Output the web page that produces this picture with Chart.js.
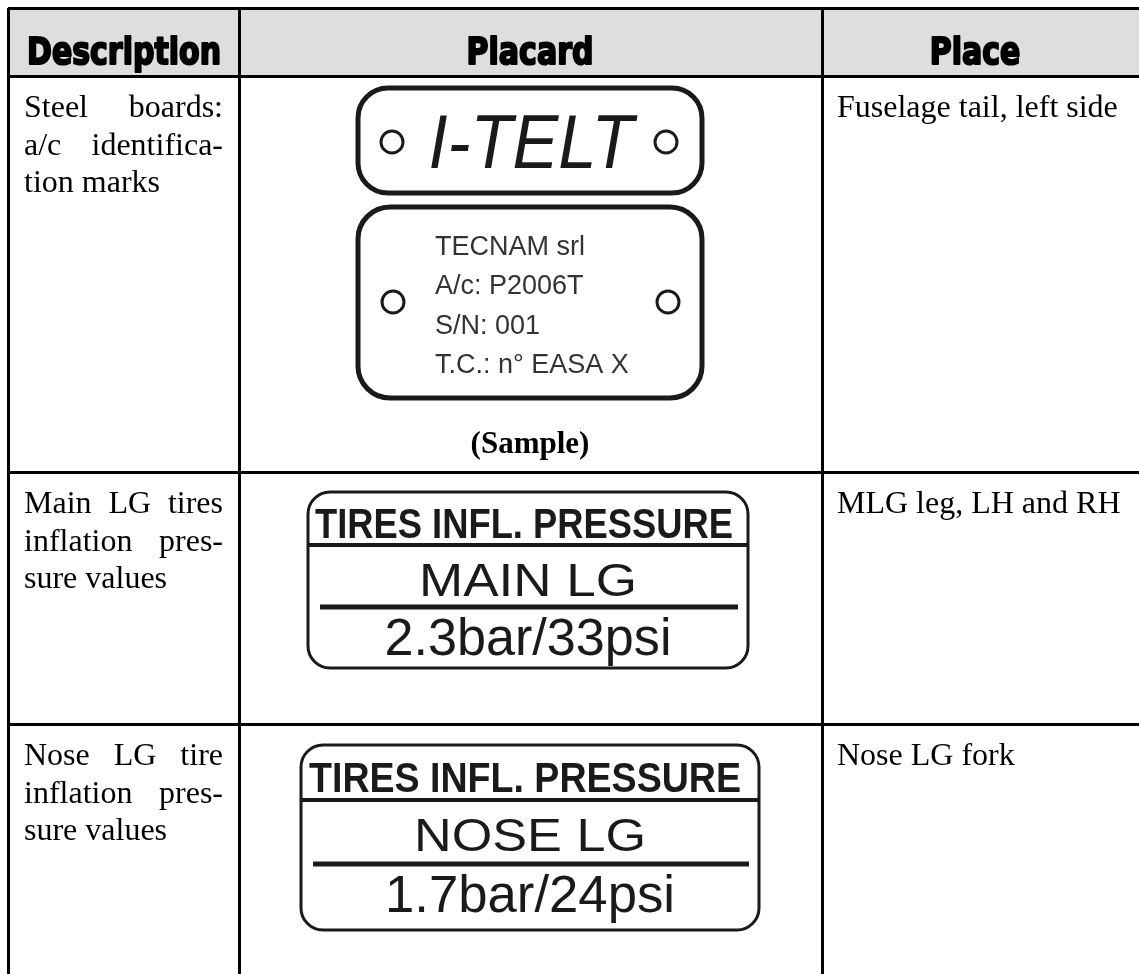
<!DOCTYPE html>
<html>
<head>
<meta charset="utf-8">
<script src="https://cdn.jsdelivr.net/npm/chart.js@4.4.1/dist/chart.umd.min.js"></script>
<style>
  html, body { margin: 0; padding: 0; background: #fff; }
  #wrap { width: 1139px; height: 974px; }
</style>
</head>
<body>
<div id="wrap"><canvas id="placards" width="1139" height="974"></canvas></div>
<script>
// table content
const headers = ['Description', 'Placard', 'Place']
const descriptions = [
    ['Steel boards:', 'a/c identifica-', 'tion marks'],
    ['Main LG tires', 'inflation pres-', 'sure values'],
    ['Nose LG tire', 'inflation pres-', 'sure values']
]
const places = ['Fuselage tail, left side', 'MLG leg, LH and RH', 'Nose LG fork']
const regMark = 'I-TELT'
const idPlate = ['TECNAM srl', 'A/c: P2006T', 'S/N: 001', 'T.C.: n° EASA X']
const sampleNote = '(Sample)'
const pressureTitle = 'TIRES INFL. PRESSURE'
const gearNames = ['MAIN LG', 'NOSE LG']
const pressures = ['2.3bar/33psi', '1.7bar/24psi']

// layout (page pixels)
const colEdges = [8, 239, 822]
const rowEdges = [8, 76, 472, 724]
const lineGap = 37.5
const ink = '#1a1a1a'

document.addEventListener('DOMContentLoaded', () => {
    const canvas = document.getElementById('placards')

    let sx = v => v
    let sy = v => v

    const fitText = (ctx, text, x, y, width, align, heavy) => {
        const w = ctx.measureText(text).width
        const k = width ? width / w : 1
        ctx.save()
        ctx.translate(x, y)
        ctx.scale(k, 1)
        ctx.textAlign = align || 'center'
        ctx.fillText(text, 0, 0)
        if (heavy) {
            // fake a black weight
            ctx.lineWidth = heavy
            ctx.lineJoin = 'round'
            ctx.strokeStyle = ctx.fillStyle
            ctx.strokeText(text, 0, 0)
        }
        ctx.restore()
    }

    const justify = (ctx, text, left, right, y, last) => {
        const words = text.split(' ')
        if (last || words.length < 2) {
            ctx.textAlign = 'left'
            ctx.fillText(text, left, y)
            return
        }
        const total = words.reduce((s, w) => s + ctx.measureText(w).width, 0)
        const gap = (right - left - total) / (words.length - 1)
        let x = left
        ctx.textAlign = 'left'
        words.forEach(w => {
            ctx.fillText(w, x, y)
            x += ctx.measureText(w).width + gap
        })
    }

    const plate = (ctx, x0, y0, x1, y1, r, lw) => {
        ctx.beginPath()
        ctx.moveTo(sx(x0 + r), sy(y0))
        ctx.arcTo(sx(x1), sy(y0), sx(x1), sy(y1), r)
        ctx.arcTo(sx(x1), sy(y1), sx(x0), sy(y1), r)
        ctx.arcTo(sx(x0), sy(y1), sx(x0), sy(y0), r)
        ctx.arcTo(sx(x0), sy(y0), sx(x1), sy(y0), r)
        ctx.closePath()
        ctx.fillStyle = '#fff'
        ctx.fill()
        ctx.lineWidth = lw
        ctx.strokeStyle = ink
        ctx.stroke()
    }

    const hole = (ctx, x, y) => {
        ctx.beginPath()
        ctx.arc(sx(x), sy(y), 11, 0, Math.PI * 2)
        ctx.lineWidth = 3
        ctx.strokeStyle = ink
        ctx.stroke()
    }

    const rule = (ctx, x0, x1, y, lw) => {
        ctx.beginPath()
        ctx.moveTo(sx(x0), sy(y))
        ctx.lineTo(sx(x1), sy(y))
        ctx.lineWidth = lw
        ctx.strokeStyle = ink
        ctx.stroke()
    }

    const headerFill = {
        id: 'headerFill',
        beforeDraw(chart) {
            const { ctx, scales } = chart
            sx = v => scales.x.getPixelForValue(v)
            sy = v => scales.y.getPixelForValue(v)
            ctx.save()
            ctx.fillStyle = '#dedede'
            ctx.fillRect(sx(8), sy(rowEdges[0]), sx(1139) - sx(8), sy(rowEdges[1]) - sy(rowEdges[0]))
            ctx.restore()
        }
    }

    const tableText = {
        id: 'tableText',
        afterDraw(chart) {
            const { ctx } = chart
            ctx.save()
            ctx.textBaseline = 'alphabetic'

            // header
            ctx.fillStyle = '#000'
            ctx.font = 'bold 38px "DejaVu Sans"'
            const k = 194 / ctx.measureText(headers[0]).width
            const headX = [124, 530, 975]
            headers.forEach((h, i) => {
                const w = ctx.measureText(h).width * k
                fitText(ctx, h, sx(headX[i]), sy(64), w, 'center', 2.2)
            })

            // description and place columns
            ctx.font = '32px "Liberation Serif"'
            ctx.fillStyle = '#000'
            descriptions.forEach((lines, r) => {
                const base = rowEdges[r + 1] + 41
                lines.forEach((t, j) => {
                    justify(ctx, t, sx(24), sx(223), sy(base + j * lineGap), j === lines.length - 1)
                })
                ctx.textAlign = 'left'
                ctx.fillText(places[r], sx(837), sy(base))
            })

            // registration plate
            plate(ctx, 358, 88, 702, 193, 30, 5)
            hole(ctx, 392, 142)
            hole(ctx, 666, 142)
            ctx.fillStyle = ink
            ctx.font = 'italic 76px "Liberation Sans"'
            fitText(ctx, regMark, sx(531), sy(168), 205, 'center')

            // identification plate
            plate(ctx, 358, 207, 702, 398, 32, 5)
            hole(ctx, 393, 302)
            hole(ctx, 668, 302)
            ctx.fillStyle = '#333'
            ctx.font = '27px "Liberation Sans"'
            idPlate.forEach((t, j) => {
                ctx.textAlign = 'left'
                ctx.fillText(t, sx(435), sy(255 + j * 39.3))
            })

            ctx.fillStyle = '#000'
            ctx.font = 'bold 31px "Liberation Serif"'
            ctx.textAlign = 'center'
            ctx.fillText(sampleNote, sx(530), sy(453))

            // tire pressure plates
            const tp = [
                { x0: 308, x1: 748, y0: 492, y1: 668, l1: 545, l2: 607, tb: 538, tx0: 315, tx1: 733, nb: 596, nw: 218, pb: 655, pw: 287 },
                { x0: 301, x1: 759, y0: 745, y1: 930, l1: 800, l2: 864, tb: 792, tx0: 309, tx1: 741, nb: 851, nw: 232, pb: 912, pw: 290 }
            ]
            tp.forEach((p, i) => {
                plate(ctx, p.x0, p.y0, p.x1, p.y1, 22, 3)
                rule(ctx, p.x0, p.x1, p.l1, 4)
                rule(ctx, p.x0 + 12, p.x1 - 10, p.l2, 5)
                const cx = (p.x0 + p.x1) / 2
                ctx.fillStyle = ink
                ctx.font = 'bold 42px "Liberation Sans Narrow", "Liberation Sans"'
                fitText(ctx, pressureTitle, sx((p.tx0 + p.tx1) / 2), sy(p.tb), p.tx1 - p.tx0, 'center')
                ctx.font = '47px "Liberation Sans"'
                fitText(ctx, gearNames[i], sx(cx), sy(p.nb), p.nw, 'center')
                ctx.font = '51px "Liberation Sans"'
                fitText(ctx, pressures[i], sx(cx), sy(p.pb), p.pw, 'center')
            })

            ctx.restore()
        }
    }

    new Chart(canvas, {
        type: 'scatter',
        data: { datasets: [] },
        options: {
            responsive: false,
            animation: false,
            layout: { padding: { left: 8, top: 8, right: 0, bottom: 0 } },
            plugins: { legend: { display: false }, tooltip: { enabled: false } },
            scales: {
                x: {
                    type: 'linear',
                    min: 8,
                    max: 1139,
                    afterBuildTicks: scale => { scale.ticks = colEdges.map(v => ({ value: v })) },
                    ticks: { display: false },
                    border: { display: false },
                    grid: { color: '#000', lineWidth: 3, drawTicks: false }
                },
                y: {
                    type: 'linear',
                    reverse: true,
                    min: 8,
                    max: 974,
                    afterBuildTicks: scale => { scale.ticks = rowEdges.map(v => ({ value: v })) },
                    ticks: { display: false },
                    border: { display: false },
                    grid: { color: '#000', lineWidth: 3, drawTicks: false }
                }
            }
        },
        plugins: [headerFill, tableText]
    })
})
</script>
</body>
</html>
